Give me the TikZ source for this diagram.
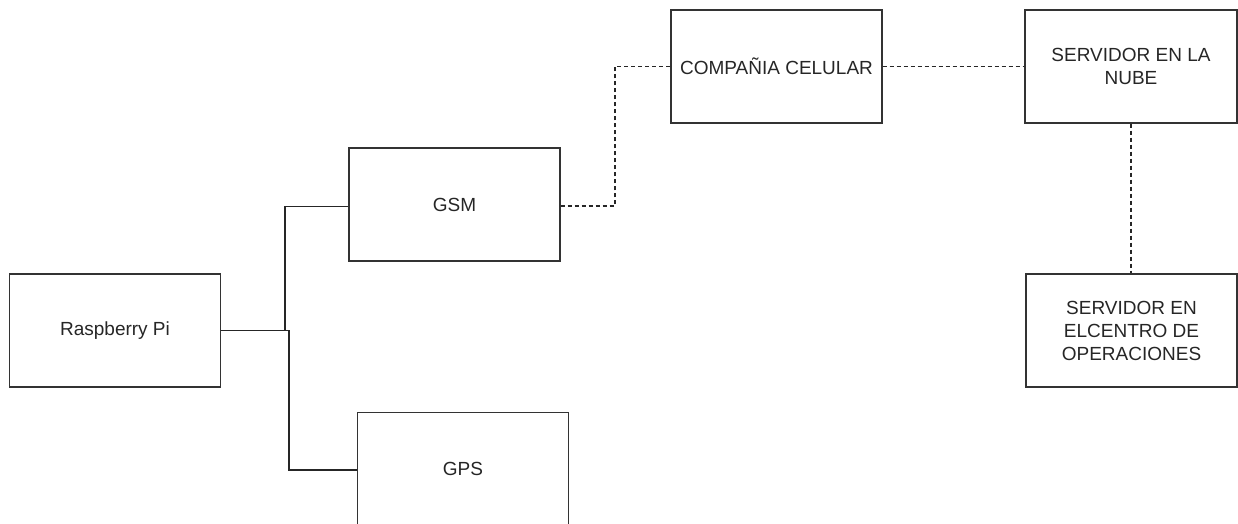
\documentclass[tikz,border=0pt]{standalone}
\usepackage{fontspec}
\setmainfont{Liberation Sans}
\begin{document}
\begin{tikzpicture}[x=1pt,y=-1pt,
  box/.style={draw=black!80,line width=1.4pt,rectangle,minimum width=211pt,minimum height=113pt,inner sep=0pt,align=center,font=\fontsize{19}{23}\selectfont,text=black!85},
  solidlink/.style={draw=black!85,line width=1.4pt},
  dashlink/.style={draw=black!85,line width=1.4pt,dash pattern=on 4pt off 3pt}]
\useasboundingbox (0,0) rectangle (1238,523);
\node[box] (rpi) at (115,330.5) {Raspberry Pi};
\node[box] (gsm) at (454.5,204.5) {GSM};
\node[box] (gps) at (463,469) {GPS};
\node[box] (cel) at (776.5,66.5) {COMPAÑIA CELULAR};
\node[box,minimum width=212pt] (nube) at (1131,66.5) {SERVIDOR EN LA\\NUBE};
\node[box] (cop) at (1131.5,330.5) {SERVIDOR EN\\ELCENTRO DE\\OPERACIONES};
\coordinate (j1) at (285,330.5);
\coordinate (j2) at (289,330.5);
\coordinate (j3) at (615,206);
\draw[solidlink] (rpi.east) -- (j1) |- ([yshift=-2pt]gsm.west);
\draw[solidlink] (rpi.east) -- (j2) |- ([yshift=-1pt]gps.west);
\draw[dashlink] ([yshift=-1.5pt]gsm.east) -- (j3) |- (cel.west);
\draw[dashlink] (cel.east) -- (nube.west);
\draw[dashlink] (nube.south) -- (nube.south |- cop.north);
\end{tikzpicture}
\end{document}
